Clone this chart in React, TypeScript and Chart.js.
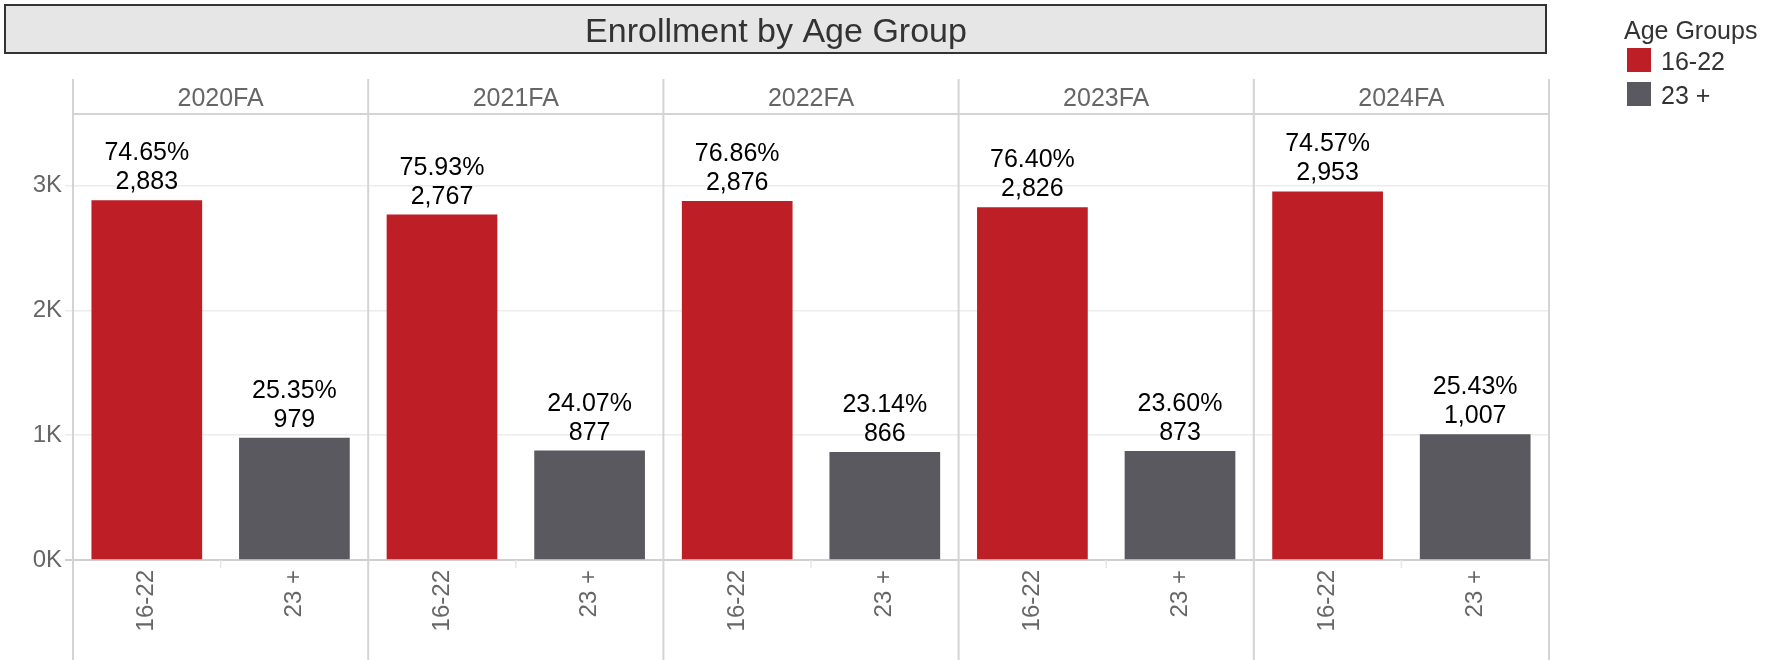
import React, { useEffect, useRef } from "react";
import { Chart, registerables } from "chart.js";

Chart.register(...registerables);

const years = ["2020FA", "2021FA", "2022FA", "2023FA", "2024FA"];
const ageGroups = ["16-22", "23 +"];
const count1622 = [2883, 2767, 2876, 2826, 2953];
const count23plus = [979, 877, 866, 873, 1007];
const pct1622 = [74.65, 75.93, 76.86, 76.4, 74.57];
const pct23plus = [25.35, 24.07, 23.14, 23.6, 25.43];
const yTicks = [0, 1000, 2000, 3000];
const yMax = 3573;
const groupColors = ["#be1e25", "#5a595f"];
const titleText = "Enrollment by Age Group";
const legendTitle = "Age Groups";

const FONT = '"Liberation Sans", Arial, Helvetica, sans-serif';

export default function App() {
  const ref = useRef<HTMLCanvasElement | null>(null);

  useEffect(() => {
    const canvas = ref.current;
    if (!canvas) return;

    const labels: string[] = [];
    const values: number[] = [];
    const pcts: number[] = [];
    const colors: string[] = [];
    years.forEach((_, i) => {
      labels.push(ageGroups[0]);
      values.push(count1622[i]);
      pcts.push(pct1622[i]);
      colors.push(groupColors[0]);
      labels.push(ageGroups[1]);
      values.push(count23plus[i]);
      pcts.push(pct23plus[i]);
      colors.push(groupColors[1]);
    });

    const decor = {
      id: "decor",
      beforeDraw(chart: any) {
        const ctx = chart.ctx;
        ctx.save();
        ctx.fillStyle = "#ffffff";
        ctx.fillRect(0, 0, chart.width, chart.height);
        // title box
        ctx.fillStyle = "#e6e6e6";
        ctx.fillRect(5, 5, 1541, 48);
        ctx.strokeStyle = "#333333";
        ctx.lineWidth = 2;
        ctx.strokeRect(5, 5, 1541, 48);
        ctx.fillStyle = "#333333";
        ctx.font = `34px ${FONT}`;
        ctx.textAlign = "center";
        ctx.textBaseline = "alphabetic";
        ctx.fillText(titleText, 776, 42);
        // legend
        ctx.textAlign = "left";
        ctx.font = `25px ${FONT}`;
        ctx.fillStyle = "#333333";
        ctx.fillText(legendTitle, 1624, 39);
        ageGroups.forEach((g, i) => {
          const y = 48 + i * 34;
          ctx.fillStyle = groupColors[i];
          ctx.fillRect(1627, y, 24, 24);
          ctx.fillStyle = "#333333";
          ctx.fillText(g, 1661, y + 22);
        });
        ctx.restore();
      },
      beforeDatasetsDraw(chart: any) {
        const ctx = chart.ctx;
        const area = chart.chartArea;
        const n = years.length;
        const panelW = (area.right - area.left) / n;
        ctx.save();
        // x axis line
        ctx.strokeStyle = "#cfcfcf";
        ctx.lineWidth = 2;
        ctx.beginPath();
        ctx.moveTo(65, area.bottom);
        ctx.lineTo(area.right + 1, area.bottom);
        ctx.stroke();
        // small center ticks
        ctx.strokeStyle = "#e6e6e6";
        ctx.lineWidth = 1.5;
        for (let i = 0; i < n; i++) {
          const cx = area.left + panelW * (i + 0.5);
          ctx.beginPath();
          ctx.moveTo(cx, area.bottom);
          ctx.lineTo(cx, area.bottom + 8);
          ctx.stroke();
        }
        // header line
        ctx.strokeStyle = "#d4d4d4";
        ctx.lineWidth = 2;
        ctx.beginPath();
        ctx.moveTo(area.left, area.top);
        ctx.lineTo(area.right, area.top);
        ctx.stroke();
        // dividers
        for (let i = 0; i <= n; i++) {
          const x = area.left + panelW * i;
          ctx.beginPath();
          ctx.moveTo(x, 79);
          ctx.lineTo(x, chart.height);
          ctx.stroke();
        }
        // headers
        ctx.fillStyle = "#666666";
        ctx.font = `25px ${FONT}`;
        ctx.textAlign = "center";
        ctx.textBaseline = "alphabetic";
        years.forEach((y, i) => {
          ctx.fillText(y, area.left + panelW * (i + 0.5), 106);
        });
        ctx.restore();
      },
      afterDatasetsDraw(chart: any) {
        const ctx = chart.ctx;
        const meta = chart.getDatasetMeta(0);
        ctx.save();
        ctx.fillStyle = "#000000";
        ctx.font = `25px ${FONT}`;
        ctx.textAlign = "center";
        ctx.textBaseline = "alphabetic";
        meta.data.forEach((bar: any, i: number) => {
          const top = bar.y;
          ctx.fillText(pcts[i].toFixed(2) + "%", bar.x, top - 40);
          ctx.fillText(values[i].toLocaleString("en-US"), bar.x, top - 11);
        });
        ctx.restore();
      },
    };

    const chart = new Chart(canvas, {
      type: "bar",
      data: {
        labels,
        datasets: [
          {
            label: "Enrollment",
            data: values,
            backgroundColor: colors,
            borderWidth: 0,
            barPercentage: 0.75,
            categoryPercentage: 1,
          },
        ],
      },
      options: {
        responsive: false,
        animation: false,
        devicePixelRatio: 1,
        layout: { padding: { top: 114, right: 222, left: 0, bottom: 0 } },
        plugins: {
          legend: { display: false },
          tooltip: { enabled: false },
          title: { display: false },
        },
        scales: {
          x: {
            grid: { display: false, drawTicks: false },
            border: { display: false },
            ticks: {
              autoSkip: false,
              minRotation: 90,
              maxRotation: 90,
              padding: 10,
              color: "#666666",
              font: { family: FONT, size: 24 },
            },
            afterFit(scale: any) {
              scale.height = 100;
            },
          },
          y: {
            min: 0,
            max: yMax,
            afterBuildTicks(scale: any) {
              scale.ticks = yTicks.map((v) => ({ value: v }));
            },
            grid: {
              color: "#ececec",
              lineWidth: 1.5,
              tickLength: 8,
              drawTicks: true,
            },
            border: { display: false },
            ticks: {
              padding: 3,
              color: "#666666",
              font: { family: FONT, size: 24 },
              callback: (v: any) => Number(v) / 1000 + "K",
            },
            afterFit(scale: any) {
              scale.width = 73;
            },
          },
        },
      },
      plugins: [decor],
    });

    return () => chart.destroy();
  }, []);

  return (
    <div style={{ position: "absolute", left: 0, top: 0, width: 1771, height: 660, background: "#fff" }}>
      <canvas ref={ref} width={1771} height={660} style={{ width: 1771, height: 660, display: "block" }} />
    </div>
  );
}
